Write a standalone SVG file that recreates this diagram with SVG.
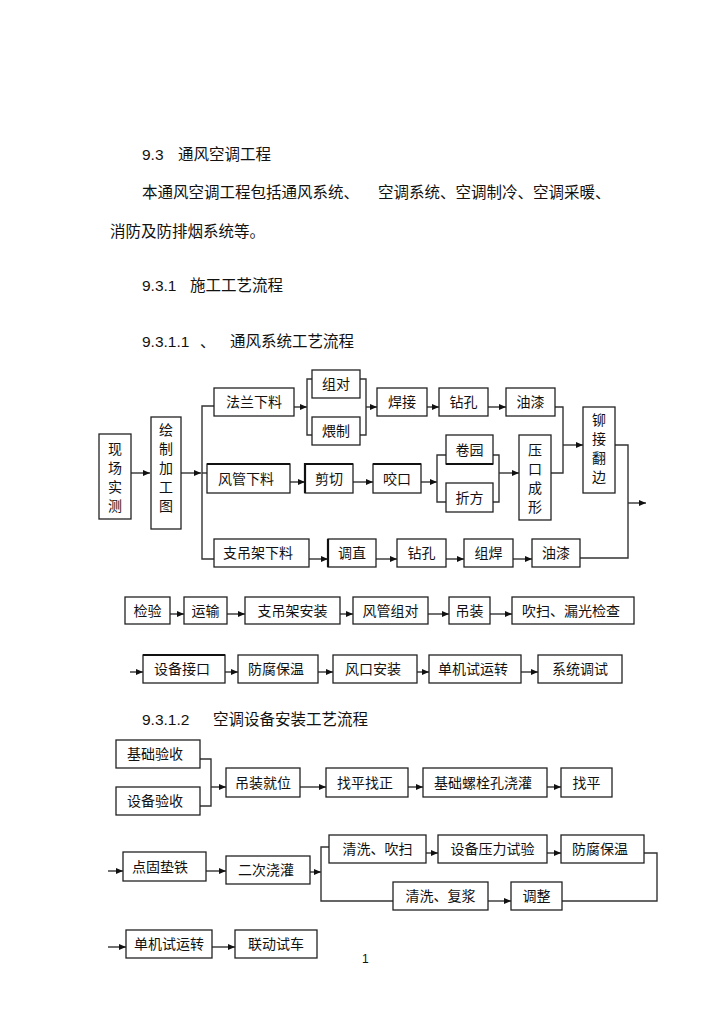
<svg xmlns="http://www.w3.org/2000/svg" width="724" height="1024" viewBox="0 0 724 1024">
<defs>
<marker id="ah" markerUnits="userSpaceOnUse" markerWidth="8" markerHeight="7" refX="7" refY="3.5" orient="auto"><path d="M0,0.5 L7,3.5 L0,6.5 z" fill="#111"/></marker>
<style>
text{font-family:"Liberation Sans","Noto Sans CJK SC",sans-serif;fill:#111}
.h{font-size:15.5px}
.b{font-size:14px;text-anchor:middle}
.v{font-size:14px;text-anchor:middle}
rect{fill:#fff;stroke:#222;stroke-width:1.3}
.c path{fill:none;stroke:#333;stroke-width:1.4}
.c path.a{marker-end:url(#ah)}
.tk{stroke:#111;stroke-width:2.2;fill:none}
</style>
</defs>
<rect x="0" y="0" width="724" height="1024" style="fill:#fff;stroke:none"/>
<g id="headings">
<text class="h" x="142" y="160">9.3</text><text class="h" x="178" y="160">通风空调工程</text>
<text class="h" x="142" y="198">本通风空调工程包括通风系统、</text><text class="h" x="378" y="198">空调系统、空调制冷、空调采暖、</text>
<text class="h" x="110" y="237">消防及防排烟系统等。</text>
<text class="h" x="142" y="291">9.3.1</text><text class="h" x="190" y="291">施工工艺流程</text>
<text class="h" x="142" y="347">9.3.1.1</text><text class="h" x="200" y="347">、</text><text class="h" x="230" y="347">通风系统工艺流程</text>
<text class="h" x="142" y="725">9.3.1.2</text><text class="h" x="213" y="725">空调设备安装工艺流程</text>
<text x="362" y="963" style="font-size:12px">1</text>
</g>
<g id="connectors" class="c">
<path class="a" d="M131,473 H150"/>
<path class="a" d="M181,473 H201"/>
<path d="M214,406 H202 V559 H214"/>
<path d="M202,473 H207"/>
<path class="a" d="M294,407 H307"/>
<path d="M312,379 H307 V435 H312"/>
<path d="M360,379 H366 V435 H360"/>
<path class="a" d="M366,407 H377"/>
<path class="a" d="M427,407 H439"/>
<path class="a" d="M488,407 H506"/>
<path d="M555,407 H563 V473 H551"/>
<path class="a" d="M563,445 H583"/>
<path class="a" d="M290,482 H305"/>
<path class="a" d="M353,482 H373"/>
<path class="a" d="M421,482 H437"/>
<path d="M446,455 H437 V502 H446"/>
<path d="M493,455 H499 V502 H493"/>
<path class="a" d="M499,473 H519"/>
<path class="a" d="M309,559 H328"/>
<path class="a" d="M376,559 H397"/>
<path class="a" d="M446,559 H464"/>
<path class="a" d="M513,559 H532"/>
<path d="M580,558 H628 V445 H615"/>
<path class="a" d="M628,503 H646"/>
<path class="a" d="M170,614 H184"/>
<path class="a" d="M227,614 H245"/>
<path class="a" d="M340,614 H353"/>
<path class="a" d="M428,614 H449"/>
<path class="a" d="M490,614 H512"/>
<path class="a" d="M130,672 H143"/>
<path class="a" d="M225,672 H238"/>
<path class="a" d="M318,672 H333"/>
<path class="a" d="M417,672 H429"/>
<path class="a" d="M521,672 H538"/>
<path d="M200,759 H211 V806 H200"/>
<path class="a" d="M211,787 H226"/>
<path class="a" d="M300,787 H326"/>
<path class="a" d="M408,787 H423"/>
<path class="a" d="M547,787 H561"/>
<path class="a" d="M108,871 H123"/>
<path class="a" d="M206,871 H226"/>
<path class="a" d="M310,872 H321"/>
<path d="M329,847 H321 V901 H393"/>
<path class="a" d="M426,853 H438"/>
<path class="a" d="M547,853 H561"/>
<path d="M644,853 H657 V901 H562"/>
<path class="a" d="M488,901 H511"/>
<path class="a" d="M108,947 H126"/>
<path class="a" d="M212,947 H235"/>
</g>
<g id="n1"><rect x="99" y="434" width="32" height="85"/><text class="v" x="115" y="454">现</text><text class="v" x="115" y="473">场</text><text class="v" x="115" y="492">实</text><text class="v" x="115" y="511">测</text></g>
<g id="n2"><rect x="151" y="417" width="30" height="112"/><text class="v" x="166" y="435">绘</text><text class="v" x="166" y="454">制</text><text class="v" x="166" y="473">加</text><text class="v" x="166" y="492">工</text><text class="v" x="166" y="511">图</text></g>
<g id="n3"><rect x="214" y="388" width="80" height="28"/><text class="b" x="254" y="407">法兰下料</text></g>
<g id="n4"><rect x="312" y="370" width="48" height="28"/><text class="b" x="336" y="389">组对</text></g>
<g id="n5"><rect x="312" y="417" width="48" height="28"/><text class="b" x="336" y="436">煨制</text></g>
<g id="n6"><rect x="377" y="388" width="50" height="28"/><text class="b" x="402" y="407">焊接</text></g>
<g id="n7"><rect x="439" y="388" width="49" height="28"/><text class="b" x="463.5" y="407">钻孔</text></g>
<g id="n8"><rect x="506" y="388" width="49" height="28"/><text class="b" x="530.5" y="407">油漆</text></g>
<g id="n9"><rect x="207" y="464" width="83" height="29"/><path class="tk" d="M207,464 H290"/><text class="b" x="246" y="483.5">风管下料</text></g>
<g id="n10"><rect x="305" y="464" width="48" height="29"/><path class="tk" d="M305,493 V464 H353"/><text class="b" x="329" y="483.5">剪切</text></g>
<g id="n11"><rect x="373" y="464" width="48" height="29"/><path class="tk" d="M373,464 H421"/><text class="b" x="397" y="483.5">咬口</text></g>
<g id="n12"><rect x="446" y="435" width="47" height="29"/><path class="tk" d="M446,464 H493"/><text class="b" x="469.5" y="454.5">卷园</text></g>
<g id="n13"><rect x="446" y="483" width="47" height="29"/><text class="b" x="469.5" y="502.5">折方</text></g>
<g id="n14"><rect x="519" y="435" width="32" height="85"/><text class="v" x="535" y="455">压</text><text class="v" x="535" y="474">口</text><text class="v" x="535" y="493">成</text><text class="v" x="535" y="512">形</text></g>
<g id="n15"><rect x="583" y="407" width="32" height="86"/><text class="v" x="599" y="425">铆</text><text class="v" x="599" y="444">接</text><text class="v" x="599" y="463">翻</text><text class="v" x="599" y="482">边</text></g>
<g id="n16"><rect x="214" y="539" width="95" height="28"/><text class="b" x="258" y="558">支吊架下料</text></g>
<g id="n17"><rect x="328" y="539" width="48" height="28"/><path class="tk" d="M328,539 V567"/><text class="b" x="352" y="558">调直</text></g>
<g id="n18"><rect x="397" y="539" width="49" height="28"/><text class="b" x="421.5" y="558">钻孔</text></g>
<g id="n19"><rect x="464" y="539" width="49" height="28"/><text class="b" x="488.5" y="558">组焊</text></g>
<g id="n20"><rect x="532" y="539" width="48" height="28"/><text class="b" x="556" y="558">油漆</text></g>
<g id="n21"><rect x="125" y="597" width="45" height="27"/><text class="b" x="147.5" y="615.5">检验</text></g>
<g id="n22"><rect x="184" y="597" width="43" height="27"/><text class="b" x="205.5" y="615.5">运输</text></g>
<g id="n23"><rect x="245" y="597" width="95" height="27"/><text class="b" x="292.5" y="615.5">支吊架安装</text></g>
<g id="n24"><rect x="353" y="597" width="75" height="27"/><text class="b" x="390.5" y="615.5">风管组对</text></g>
<g id="n25"><rect x="449" y="597" width="41" height="27"/><text class="b" x="469.5" y="615.5">吊装</text></g>
<g id="n26"><rect x="512" y="597" width="122" height="27"/><text class="b" x="571" y="615.5">吹扫、漏光检查</text></g>
<g id="n27"><rect x="143" y="655" width="82" height="28"/><path class="tk" d="M143,655 H225"/><text class="b" x="182" y="674">设备接口</text></g>
<g id="n28"><rect x="238" y="655" width="80" height="28"/><text class="b" x="276" y="674">防腐保温</text></g>
<g id="n29"><rect x="333" y="655" width="84" height="28"/><text class="b" x="373" y="674">风口安装</text></g>
<g id="n30"><rect x="429" y="655" width="92" height="28"/><text class="b" x="473" y="674">单机试运转</text></g>
<g id="n31"><rect x="538" y="655" width="84" height="28"/><text class="b" x="580" y="674">系统调试</text></g>
<g id="m1"><rect x="116" y="740" width="84" height="28"/><text class="b" x="155" y="759">基础验收</text></g>
<g id="m2"><rect x="116" y="787" width="84" height="28"/><text class="b" x="155" y="806">设备验收</text></g>
<g id="m3"><rect x="226" y="768" width="74" height="29"/><text class="b" x="263" y="787.5">吊装就位</text></g>
<g id="m4"><rect x="326" y="768" width="82" height="29"/><text class="b" x="365" y="787.5">找平找正</text></g>
<g id="m5"><rect x="423" y="768" width="124" height="29"/><text class="b" x="483" y="787.5">基础螺栓孔浇灌</text></g>
<g id="m6"><rect x="561" y="768" width="51" height="29"/><text class="b" x="586.5" y="787.5">找平</text></g>
<g id="m7"><rect x="123" y="852" width="83" height="29"/><text class="b" x="160" y="871.5">点固垫铁</text></g>
<g id="m8"><rect x="226" y="856" width="84" height="28"/><text class="b" x="266" y="875">二次浇灌</text></g>
<g id="m9"><rect x="329" y="835" width="97" height="28"/><text class="b" x="377.5" y="854">清洗、吹扫</text></g>
<g id="m10"><rect x="438" y="835" width="109" height="28"/><text class="b" x="492.5" y="854">设备压力试验</text></g>
<g id="m11"><rect x="561" y="835" width="83" height="28"/><text class="b" x="600" y="854">防腐保温</text></g>
<g id="m12"><rect x="393" y="882" width="95" height="28"/><text class="b" x="440.5" y="901">清洗、复浆</text></g>
<g id="m13"><rect x="511" y="882" width="51" height="28"/><text class="b" x="536.5" y="901">调整</text></g>
<g id="m14"><rect x="126" y="930" width="86" height="28"/><text class="b" x="169" y="949">单机试运转</text></g>
<g id="m15"><rect x="235" y="930" width="82" height="28"/><text class="b" x="276" y="949">联动试车</text></g>
</svg>
